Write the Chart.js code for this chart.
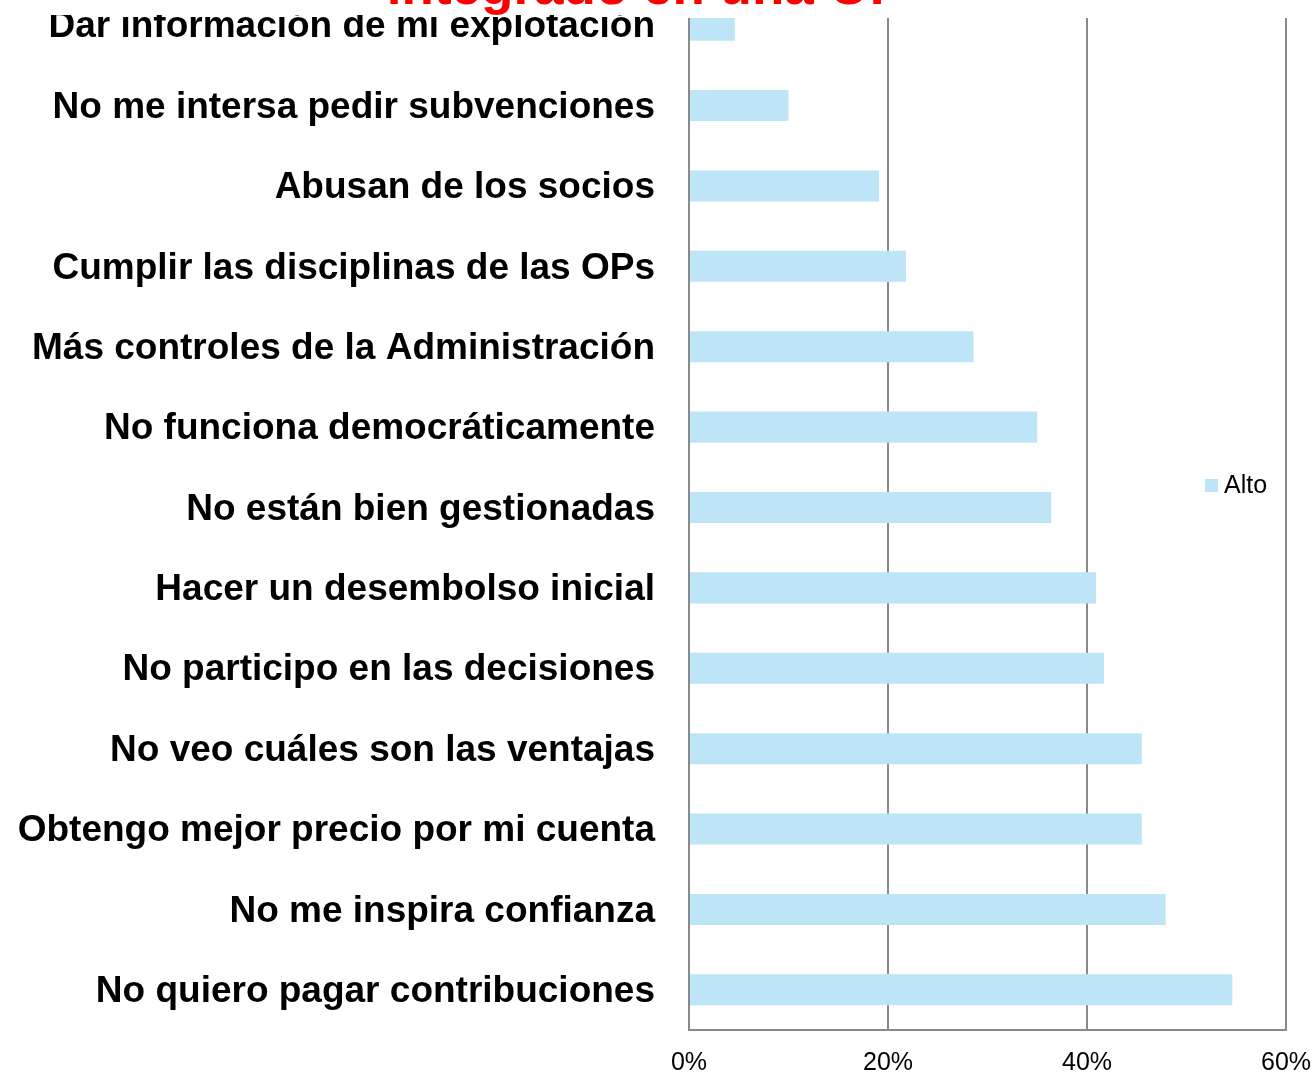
<!DOCTYPE html>
<html>
<head>
<meta charset="utf-8">
<script src="https://cdn.jsdelivr.net/npm/chart.js@4/dist/chart.umd.min.js"></script>
<style>
  html, body { margin: 0; padding: 0; background: #fff; overflow: hidden; }
  body { width: 1316px; height: 1074px; position: relative; font-family: "Liberation Sans", Arial, sans-serif; }
  #wrap { position: absolute; left: 0; top: -40px; width: 1316px; height: 1117px; }
  .mask { position: absolute; background: #fff; z-index: 2; }
  #title { position: absolute; left: 0; width: 1292px; top: -41px; text-align: center; color: #ff0000;
           font-weight: bold; font-size: 53px; line-height: 53px; z-index: 3; white-space: nowrap; }
  #legend { position: absolute; left: 1205px; top: 470px; z-index: 3; font-size: 25px; color: #000; line-height: 28px; }
  #legend span.box { display: inline-block; width: 13px; height: 13px; background: #bde4f7; margin-right: 6px; vertical-align: 1px; }
</style>
</head>
<body>
<div id="wrap"><canvas id="chart"></canvas></div>
<div class="mask" style="left:0;top:0;width:1316px;height:15px"></div>
<div class="mask" style="left:666px;top:0;width:650px;height:18px"></div>
<div id="title">integrado en una OP</div>
<div id="legend"><span class="box"></span>Alto</div>
<script>
const categories = [
  "Dar información de mi explotación",
  "No me intersa pedir subvenciones",
  "Abusan de los socios",
  "Cumplir las disciplinas de las OPs",
  "Más controles de la Administración",
  "No funciona democráticamente",
  "No están bien gestionadas",
  "Hacer un desembolso inicial",
  "No participo en las decisiones",
  "No veo cuáles son las ventajas",
  "Obtengo mejor precio por mi cuenta",
  "No me inspira confianza",
  "No quiero pagar contribuciones"
];
const seriesName = "Alto";
const alto = [4.6, 10.0, 19.1, 21.8, 28.6, 35.0, 36.4, 40.9, 41.7, 45.5, 45.5, 47.9, 54.6];
const xTicks = [0, 20, 40, 60];

const gridColor = "#8a8a8a";

new Chart(document.getElementById("chart"), {
  type: "bar",
  data: {
    labels: categories,
    datasets: [{
      label: seriesName,
      data: alto,
      backgroundColor: "#bde4f7",
      categoryPercentage: 1,
      barPercentage: 0.386
    }]
  },
  options: {
    indexAxis: "y",
    responsive: true,
    maintainAspectRatio: false,
    animation: false,
    layout: { padding: { top: 25, right: 30, left: 0, bottom: 0 } },
    plugins: {
      legend: { display: false },
      tooltip: { enabled: false },
      title: { display: false }
    },
    scales: {
      x: {
        min: 0,
        max: 60,
        afterFit: s => { s.height = 47; s.paddingLeft = 0; s.paddingRight = 0; },
        afterBuildTicks: s => { s.ticks = xTicks.map(v => ({ value: v })); },
        grid: { color: gridColor, lineWidth: 2, drawTicks: false },
        border: { color: gridColor, width: 2 },
        ticks: {
          padding: 18,
          color: "#000",
          font: { family: "Liberation Sans", size: 25 },
          callback: v => v + "%"
        }
      },
      y: {
        afterFit: s => { s.width = 689; s.paddingTop = 0; s.paddingBottom = 0; },
        grid: { display: false, drawTicks: false },
        border: { color: gridColor, width: 2 },
        ticks: {
          padding: 34,
          labelOffset: 2,
          color: "#000",
          font: { family: "Liberation Sans", size: 37, weight: "bold" }
        }
      }
    }
  }
});
</script>
</body>
</html>
